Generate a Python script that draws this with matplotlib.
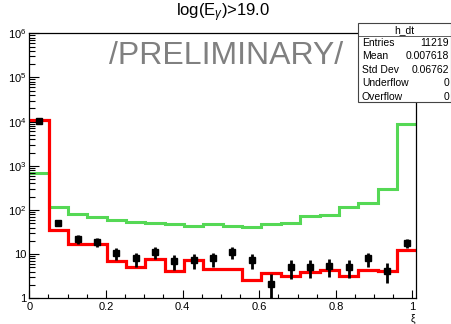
import numpy as np
import matplotlib
matplotlib.use('Agg')
import matplotlib.pyplot as plt
from matplotlib.patches import Rectangle
from matplotlib.ticker import FixedLocator, LogLocator, NullFormatter

plt.rcParams['font.family'] = ['Liberation Sans', 'DejaVu Sans']
plt.rcParams['mathtext.fontset'] = 'custom'
plt.rcParams['mathtext.rm'] = 'Liberation Sans'
plt.rcParams['mathtext.it'] = 'Liberation Sans:italic'

# histogram: 20 bins on [0, 1.01]
x_max = 1.01
n_bins = 20
red_vals = [11000, 35, 17, 17, 7.0, 5.0, 7.7, 4.2, 7.2, 4.7,
            4.5, 2.6, 3.7, 3.2, 4.0, 4.4, 3.2, 4.4, 4.1, 12.3]
green_vals = [680, 115, 81, 68, 60, 54, 50, 48, 44, 47,
              43, 42, 49, 52, 72, 78, 115, 144, 300, 8950]
data_vals = [10400, 50, 22, 18.5, 10.5, 8.0, 11, 7.0, 7.2, 8.0,
             11, 7.4, 2.1, 5.0, 5.2, 5.4, 5.2, 8.0, 4.2, 17.8]
data_errs = [100, 7.0, 4.7, 4.3, 3.2, 2.8, 3.3, 2.6, 2.7, 2.8,
             3.3, 2.7, 1.4, 2.2, 2.3, 2.3, 2.3, 2.8, 2.0, 4.2]

stats_labels = ['Entries', 'Mean', 'Std Dev', 'Underflow', 'Overflow']
stats_values = ['11219', '0.007618', '0.06762', '0', '0']

edges = np.linspace(0, x_max, n_bins + 1)
centers = 0.5 * (edges[:-1] + edges[1:])

fig = plt.figure(figsize=(4.52, 3.24), dpi=100)
ax = fig.add_axes([0.0648, 0.0793, 0.8562, 0.8179])

ax.stairs(green_vals, edges, color='#55d855', lw=2.2, baseline=None)
ax.stairs(red_vals, edges, color='#ff0000', lw=2.3, baseline=None)
ax.errorbar(centers, data_vals, yerr=data_errs, fmt='s', color='black',
            ms=4, elinewidth=2, capsize=0)

ax.set_yscale('log')
ax.set_xlim(0, x_max)
ax.set_ylim(1, 1e6)

ax.xaxis.set_major_locator(FixedLocator([0, 0.2, 0.4, 0.6, 0.8, 1.0]))
ax.set_xticklabels(['0', '0.2', '0.4', '0.6', '0.8', '1'])
ax.xaxis.set_minor_locator(FixedLocator(np.arange(0, 1.001, 0.05)))
ax.yaxis.set_major_locator(FixedLocator([1, 10, 100, 1e3, 1e4, 1e5, 1e6]))
ax.set_yticklabels(['1', '10', '$10^{2}$', '$10^{3}$', '$10^{4}$',
                    '$10^{5}$', '$10^{6}$'])
ax.yaxis.set_minor_locator(LogLocator(base=10, subs=np.arange(2, 10)))
ax.yaxis.set_minor_formatter(NullFormatter())

ax.tick_params(which='both', direction='in', top=False, right=False,
               labelsize=8, width=0.8, colors='black')
ax.tick_params(axis='x', which='major', length=6, pad=3)
ax.tick_params(axis='x', which='minor', length=3)
ax.tick_params(axis='y', which='major', length=7, pad=2)
ax.tick_params(axis='y', which='minor', length=4)
for s in ax.spines.values():
    s.set_linewidth(0.9)

fig.text(413 / 452, 1 - 318.5 / 324, 'ξ', ha='center', va='center', fontsize=7.5)

fig.text(0.493, 0.962, r'log(E$_{\gamma}$)>19.0', ha='center', va='center',
         fontsize=12)
fig.text(0.500, 0.827, '/PRELIMINARY/', ha='center', va='center',
         fontsize=23, color='#808080')

# stats box
bx0, bx1 = 358 / 452, 451 / 452
by0, by1 = 1 - 102 / 324, 1 - 22.7 / 324
fig.patches.append(Rectangle((bx0, by0), bx1 - bx0, by1 - by0,
                             transform=fig.transFigure, facecolor='white',
                             edgecolor='#444444', lw=0.8, zorder=5))
sep = 1 - 35.7 / 324
fig.lines.append(plt.Line2D([bx0, bx1], [sep, sep], transform=fig.transFigure,
                            color='#444444', lw=0.6, zorder=6))
fig.text((bx0 + bx1) / 2, 1 - 30 / 324, 'h_dt', ha='center', va='center',
         fontsize=7.5, zorder=7)
for i, (lab, val) in enumerate(zip(stats_labels, stats_values)):
    yy = 1 - (42.5 + 13.6 * i) / 324
    fig.text(362 / 452, yy, lab, ha='left', va='center', fontsize=7.5, zorder=7)
    fig.text(449 / 452, yy, val, ha='right', va='center', fontsize=7.5, zorder=7)

fig.savefig('out.png', dpi=100)
